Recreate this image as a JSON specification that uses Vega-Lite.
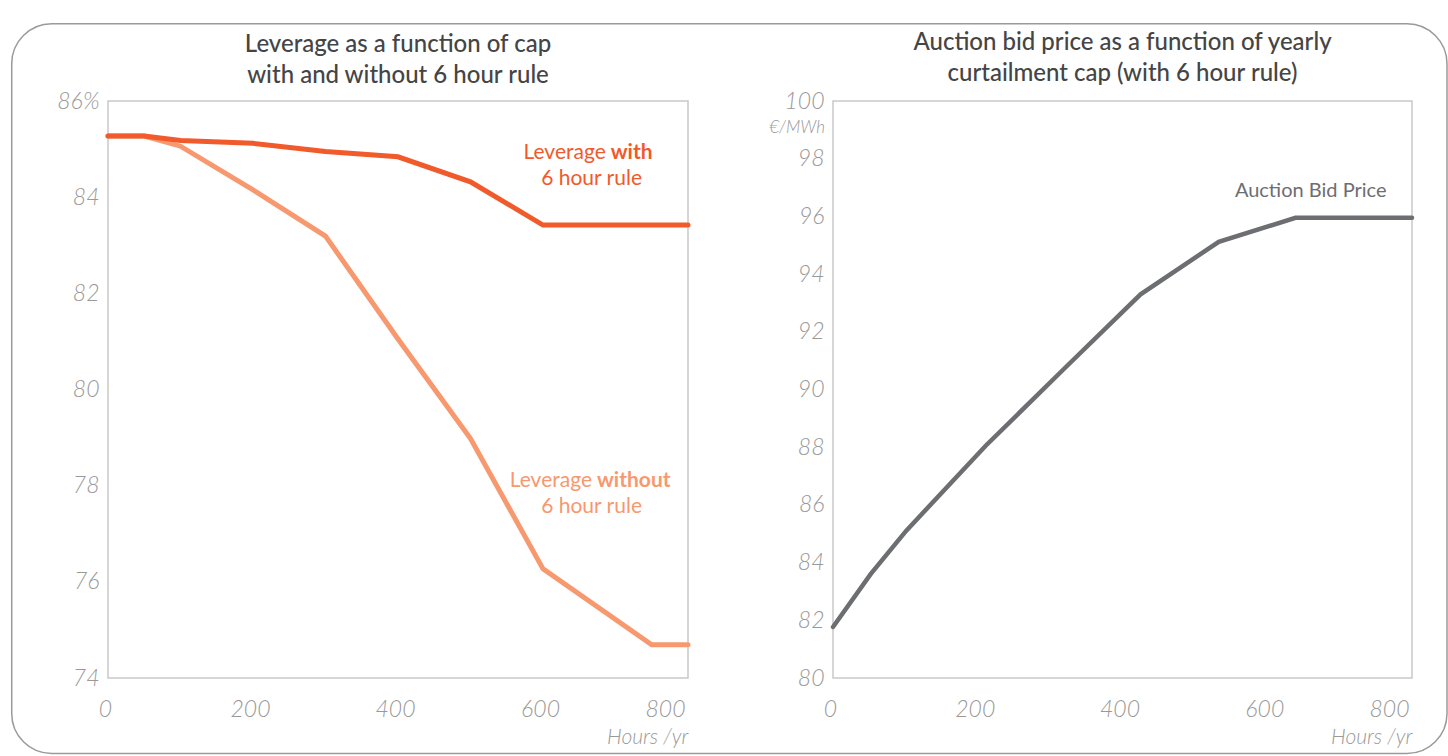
{
  "$schema": "https://vega.github.io/schema/vega-lite/v6.json",
  "padding": {"left": 10, "top": 22, "right": 0, "bottom": 0},
  "autosize": {"type": "pad"},
  "bounds": "flush",
  "spacing": 145,
  "background": "white",
  "config": {
    "view": {"stroke": "#c9c9c9", "strokeWidth": 1.5},
    "axis": {"labelFont": "Lato", "labelFontStyle": "italic", "labelFontWeight": 300, "labelFontSize": 23, "labelColor": "#999999", "ticks": false, "domain": false, "grid": false},
    "title": {"font": "Lato", "fontSize": 24, "fontWeight": 500, "color": "#454545", "anchor": "middle", "lineHeight": 31, "offset": 14},
    "text": {"font": "Lato"}
  },
  "datasets": {
    "leverage": [
      {"hours": 0, "leverage": 85.27, "series": "with"},
      {"hours": 50, "leverage": 85.27, "series": "with"},
      {"hours": 100, "leverage": 85.18, "series": "with"},
      {"hours": 200, "leverage": 85.12, "series": "with"},
      {"hours": 300, "leverage": 84.95, "series": "with"},
      {"hours": 400, "leverage": 84.84, "series": "with"},
      {"hours": 500, "leverage": 84.32, "series": "with"},
      {"hours": 600, "leverage": 83.42, "series": "with"},
      {"hours": 800, "leverage": 83.42, "series": "with"},
      {"hours": 0, "leverage": 85.27, "series": "without"},
      {"hours": 50, "leverage": 85.27, "series": "without"},
      {"hours": 100, "leverage": 85.06, "series": "without"},
      {"hours": 200, "leverage": 84.15, "series": "without"},
      {"hours": 300, "leverage": 83.19, "series": "without"},
      {"hours": 400, "leverage": 81.05, "series": "without"},
      {"hours": 500, "leverage": 78.98, "series": "without"},
      {"hours": 600, "leverage": 76.27, "series": "without"},
      {"hours": 750, "leverage": 74.69, "series": "without"},
      {"hours": 800, "leverage": 74.69, "series": "without"}
    ],
    "bid": [
      {"hours": 0, "price": 81.77},
      {"hours": 52, "price": 83.6},
      {"hours": 101, "price": 85.1},
      {"hours": 211, "price": 88.05},
      {"hours": 319, "price": 90.71},
      {"hours": 425, "price": 93.3},
      {"hours": 533, "price": 95.12},
      {"hours": 639, "price": 95.95},
      {"hours": 800, "price": 95.95}
    ],
    "leverageLabels": [
      {"hours": 690, "leverage": 84.92, "text": "Leverage", "series": "with", "part": "plain"},
      {"hours": 690, "leverage": 84.92, "text": "with", "series": "with", "part": "bold"},
      {"hours": 667, "leverage": 84.38, "text": "6 hour rule", "series": "with", "part": "center"},
      {"hours": 671, "leverage": 78.1, "text": "Leverage", "series": "without", "part": "plain"},
      {"hours": 671, "leverage": 78.1, "text": "without", "series": "without", "part": "bold"},
      {"hours": 667, "leverage": 77.56, "text": "6 hour rule", "series": "without", "part": "center"}
    ],
    "bidLabels": [
      {"hours": 660, "price": 96.88, "text": "Auction Bid Price"}
    ]
  },
  "hconcat": [
    {
      "width": 580,
      "height": 577,
      "title": {"text": ["Leverage as a function of cap", "with and without 6 hour rule"], "dy": 79},
      "layer": [
        {
          "data": {"values": [{}]},
          "mark": {"type": "rect", "cornerRadius": 40, "fillOpacity": 0, "stroke": "#9a9a9a", "strokeWidth": 1.5, "clip": false},
          "encoding": {
            "x": {"datum": -132.8, "type": "quantitative", "scale": {"domain": [0, 800], "nice": false, "zero": false}},
            "x2": {"datum": 1846.9},
            "y": {"datum": 87.607, "type": "quantitative", "scale": {"domain": [74, 86], "nice": false, "zero": false}},
            "y2": {"datum": 72.43}
          }
        },
        {
          "data": {"name": "leverage"},
          "transform": [{"filter": "datum.series == 'without'"}],
          "mark": {"type": "line", "strokeWidth": 5, "strokeCap": "round", "color": "#F7986F"},
          "encoding": {
            "x": {"field": "hours", "type": "quantitative", "scale": {"domain": [0, 800], "nice": false, "zero": false},
              "axis": {"values": [0, 200, 400, 600, 800], "title": "Hours /yr", "titleAnchor": "end", "titleFont": "Lato", "titleFontStyle": "italic", "titleFontWeight": 300, "titleFontSize": 21, "titleColor": "#999999", "titlePadding": 5, "labelPadding": 20, "labelFlush": false, "labelOffset": -3, "labelAlign": {"condition": {"test": "datum.value == 800", "value": "right"}, "value": "center"}}},
            "y": {"field": "leverage", "type": "quantitative", "scale": {"domain": [74, 86], "nice": false, "zero": false},
              "axis": {"values": [74, 76, 78, 80, 82, 84, 86], "title": null, "labelPadding": 9, "labelExpr": "datum.value == 86 ? '86%' : datum.label"}}
          }
        },
        {
          "data": {"name": "leverage"},
          "transform": [{"filter": "datum.series == 'with'"}],
          "mark": {"type": "line", "strokeWidth": 5, "strokeCap": "round", "color": "#F15A2B"},
          "encoding": {
            "x": {"field": "hours", "type": "quantitative"},
            "y": {"field": "leverage", "type": "quantitative"}
          }
        },
        {
          "data": {"name": "leverageLabels"},
          "transform": [{"filter": "datum.part == 'plain'"}],
          "mark": {"type": "text", "fontSize": 21, "baseline": "middle", "align": "right", "dx": -2.5},
          "encoding": {
            "x": {"field": "hours", "type": "quantitative"},
            "y": {"field": "leverage", "type": "quantitative"},
            "text": {"field": "text"},
            "color": {"field": "series", "type": "nominal", "scale": {"domain": ["with", "without"], "range": ["#F15A2B", "#F7986F"]}, "legend": null}
          }
        },
        {
          "data": {"name": "leverageLabels"},
          "transform": [{"filter": "datum.part == 'bold'"}],
          "mark": {"type": "text", "fontSize": 21, "baseline": "middle", "align": "left", "dx": 2.5, "fontWeight": "bold"},
          "encoding": {
            "x": {"field": "hours", "type": "quantitative"},
            "y": {"field": "leverage", "type": "quantitative"},
            "text": {"field": "text"},
            "color": {"field": "series", "type": "nominal", "legend": null}
          }
        },
        {
          "data": {"name": "leverageLabels"},
          "transform": [{"filter": "datum.part == 'center'"}],
          "mark": {"type": "text", "fontSize": 21, "baseline": "middle", "align": "center"},
          "encoding": {
            "x": {"field": "hours", "type": "quantitative"},
            "y": {"field": "leverage", "type": "quantitative"},
            "text": {"field": "text"},
            "color": {"field": "series", "type": "nominal", "legend": null}
          }
        }
      ]
    },
    {
      "width": 579,
      "height": 577,
      "title": {"text": ["Auction bid price as a function of yearly", "curtailment cap (with 6 hour rule)"], "dy": 10},
      "layer": [
        {
          "data": {"name": "bid"},
          "mark": {"type": "line", "strokeWidth": 4.5, "strokeCap": "round", "color": "#6D6E71"},
          "encoding": {
            "x": {"field": "hours", "type": "quantitative", "scale": {"domain": [0, 800], "nice": false, "zero": false},
              "axis": {"values": [0, 200, 400, 600, 800], "title": "Hours /yr", "titleAnchor": "end", "titleFont": "Lato", "titleFontStyle": "italic", "titleFontWeight": 300, "titleFontSize": 21, "titleColor": "#999999", "titlePadding": 5, "labelPadding": 20, "labelFlush": false, "labelOffset": -3, "labelAlign": {"condition": {"test": "datum.value == 800", "value": "right"}, "value": "center"}}},
            "y": {"field": "price", "type": "quantitative", "scale": {"domain": [80, 100], "nice": false, "zero": false},
              "axis": {"values": [80, 82, 84, 86, 88, 90, 92, 94, 96, 98, 100], "title": null, "labelPadding": 9}}
          }
        },
        {
          "data": {"name": "bidLabels"},
          "mark": {"type": "text", "fontSize": 20, "baseline": "middle", "align": "center", "color": "#6D6E71"},
          "encoding": {
            "x": {"field": "hours", "type": "quantitative"},
            "y": {"field": "price", "type": "quantitative"},
            "text": {"field": "text"}
          }
        },
        {
          "data": {"values": [{"unit": "€/MWh"}]},
          "mark": {"type": "text", "font": "Lato", "fontStyle": "italic", "fontWeight": 300, "fontSize": 17, "align": "right", "baseline": "middle", "dx": -8, "color": "#999999"},
          "encoding": {
            "x": {"datum": 0, "type": "quantitative"},
            "y": {"datum": 99.05, "type": "quantitative"},
            "text": {"field": "unit"}
          }
        }
      ]
    }
  ]
}
